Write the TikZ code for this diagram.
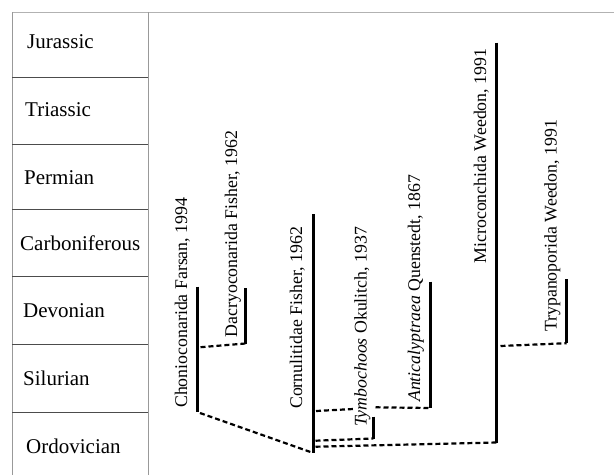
\documentclass[tikz,border=0pt]{standalone}
\usepackage{fontspec}
\setmainfont{Liberation Serif}
\begin{document}
\begin{tikzpicture}[x=1pt,y=-1pt,
  grid/.style={line width=1pt,draw=black!40},
  rowline/.style={line width=1pt,draw=black!70},
  period/.style={anchor=base west,inner sep=0pt,font=\fontsize{21}{25}\selectfont},
  taxon/.style={anchor=base west,inner sep=0pt,rotate=90,font=\fontsize{17.8}{21}\selectfont},
  bar/.style={line width=3pt},
  link/.style={line width=2.2pt,dash pattern=on 5pt off 3pt}]
\useasboundingbox (0,0) rectangle (614,475);
% table
\draw[grid,draw=black!30] (12,12) -- (614,12);
\draw[grid] (12,12) -- (12,475);
\draw[grid] (148,12) -- (148,475);
\foreach \yy in {77.3,144.3,209.3,276.7,344.3,412.7}
  \draw[rowline] (12,\yy) -- (148,\yy);
\node[period] (jur) at (27,48.3) {Jurassic};
\node[period] (tri) at (25,116.7) {Triassic};
\node[period] (per) at (24,184.3) {Permian};
\node[period] (car) at (20,250) {Carboniferous};
\node[period] (dev) at (23,317.3) {Devonian};
\node[period] (sil) at (23,385) {Silurian};
\node[period] (ord) at (26,453.3) {Ordovician};
% bars
\coordinate (chT) at (197.7,286.7); \coordinate (chB) at (197.7,411.7);
\coordinate (daT) at (245.3,288);   \coordinate (daB) at (245.3,343.5);
\coordinate (coT) at (313,214);     \coordinate (coB) at (313,453.3);
\coordinate (tyT) at (373.3,416.7); \coordinate (tyB) at (373.3,438.5);
\coordinate (anT) at (430.7,281.7); \coordinate (anB) at (430.7,408);
\coordinate (miT) at (496.7,42.7);  \coordinate (miB) at (496.7,442.5);
\coordinate (trT) at (566.7,279.3); \coordinate (trB) at (566.7,343.2);
\foreach \a in {ch,da,co,ty,an,mi,tr}
  \draw[bar] (\a T) -- (\a B);
% labels
\node[taxon] (chL) at (187,408) {Chonioconarida Farsan, 1994};
\node[taxon] (daL) at (237,337.5) {Dacryoconarida Fisher, 1962};
\node[taxon] (coL) at (302,409) {Cornulitidae Fisher, 1962};
\node[taxon] (tyL) at (366.5,427) {\itshape Tymbochoos\upshape\ Okulitch, 1937};
\node[taxon] (anL) at (420,402) {\itshape Anticalyptraea\upshape\ Quenstedt, 1867};
\node[taxon] (miL) at (486,263.5) {Microconchida Weedon, 1991};
\node[taxon] (trL) at (556.5,332) {Trypanoporida Weedon, 1991};
% branch points
\coordinate (chD) at (200.5,347.2);
\coordinate (chS) at (200,413);
\coordinate (coE) at (310.5,452);
\coordinate (coA) at (316,411);
\coordinate (gapL) at (353.3,409);
\coordinate (gapR) at (375.5,407.3);
\coordinate (coT1) at (315.5,440.7);
\coordinate (coM) at (315.5,446.7);
\coordinate (miD) at (500.5,346);
% connectors
\draw[link] (chD) -- (daB);
\draw[link] (chS) -- (coE);
\draw[link] (coA) -- (gapL);
\draw[link] (gapR) -- (anB);
\draw[link] (coT1) -- (tyB);
\draw[link] (coM) -- (miB);
\draw[link] (miD) -- (trB);
\end{tikzpicture}
\end{document}
